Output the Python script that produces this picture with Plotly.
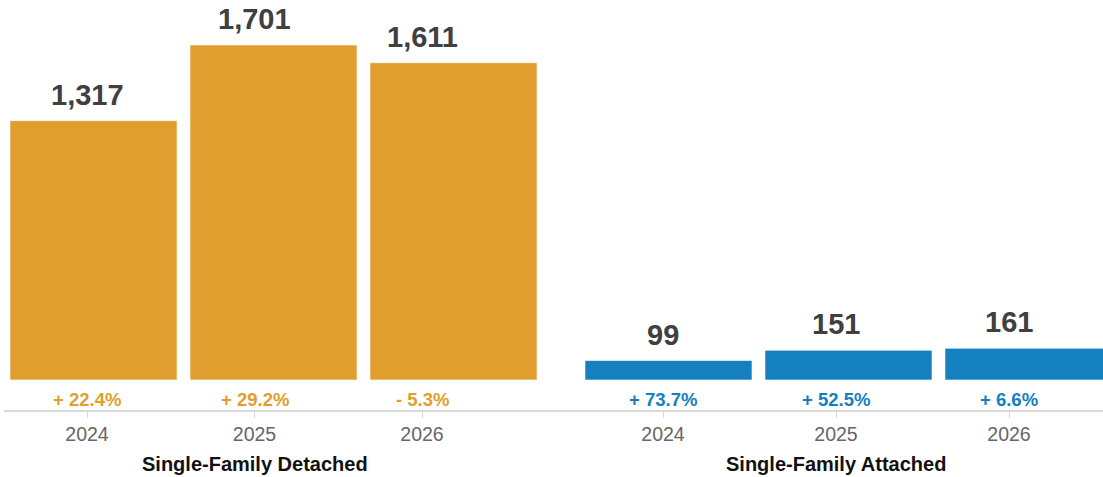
import plotly.graph_objects as go

years = ["2024", "2025", "2026"]
detached = [1317, 1701, 1611]
attached = [99, 151, 161]
detached_change = ["+ 22.4%", "+ 29.2%", "- 5.3%"]
attached_change = ["+ 73.7%", "+ 52.5%", "+ 6.6%"]
groups = ["Single-Family Detached", "Single-Family Attached"]

ORANGE = "#E09E2F"
BLUE = "#1580C0"
W, H = 1103, 477
FONT = "Liberation Sans, Arial, Helvetica, sans-serif"

fig = go.Figure()

# bars (on their own hidden axes)
fig.add_trace(go.Bar(x=years, y=detached, xaxis="x", yaxis="y", width=0.928,
                     marker=dict(color=ORANGE, line=dict(color="rgba(255,255,255,0.6)", width=1)),
                     hoverinfo="skip", showlegend=False))
fig.add_trace(go.Bar(x=years, y=attached, xaxis="x2", yaxis="y", width=0.928,
                     marker=dict(color=BLUE, line=dict(color="rgba(255,255,255,0.6)", width=1)),
                     hoverinfo="skip", showlegend=False))
# invisible anchors for the category (tick) axes
fig.add_trace(go.Scatter(x=years, y=detached, xaxis="x3", yaxis="y", mode="markers",
                         marker=dict(opacity=0), hoverinfo="skip", showlegend=False))
fig.add_trace(go.Scatter(x=years, y=attached, xaxis="x4", yaxis="y", mode="markers",
                         marker=dict(opacity=0), hoverinfo="skip", showlegend=False))

annotations = []
for xref, vals, changes, color in [("x3", detached, detached_change, ORANGE),
                                   ("x4", attached, attached_change, BLUE)]:
    # category axes: annotation x is the category index
    for i, (v, ch) in enumerate(zip(vals, changes)):
        annotations.append(dict(x=i, y=v, xref=xref, yref="y", text=f"<b>{v:,}</b>",
                                showarrow=False, yanchor="bottom", yshift=8,
                                font=dict(family=FONT, size=29, color="#404040")))
        annotations.append(dict(x=i, y=0, xref=xref, yref="y", text=f"<b>{ch}</b>",
                                showarrow=False, yanchor="top", yshift=-7,
                                font=dict(family=FONT, size=18.5, color=color)))
for xref, g in zip(["x3", "x4"], groups):
    annotations.append(dict(x=(len(years) - 1) / 2, y=0, xref=xref, yref="paper", text=f"<b>{g}</b>",
                            showarrow=False, yanchor="top", yshift=-40,
                            font=dict(family=FONT, size=20, color="#111111")))

hidden = dict(type="category", showticklabels=False, ticks="", showline=False,
              showgrid=False, zeroline=False, fixedrange=True)
tickax = dict(type="category", showticklabels=True, ticks="outside", ticklen=6, tickwidth=1,
              tickcolor="#d8d8d8", showline=False, showgrid=False, zeroline=False,
              fixedrange=True, tickfont=dict(family=FONT, size=19.5, color="#666666"), anchor="y")

fig.update_layout(
    width=W, height=H,
    margin=dict(l=0, r=0, t=0, b=66),
    paper_bgcolor="white", plot_bgcolor="rgba(0,0,0,0)",
    showlegend=False,
    xaxis=dict(**hidden, domain=[3.5 / W, 543.5 / W], range=[-0.5, 2.5], anchor="y"),
    xaxis2=dict(**hidden, domain=[578.5 / W, 1.0], range=[-0.5, -0.5 + 524.5 / 180], anchor="y"),
    xaxis3=dict(**tickax, domain=[3.25 / W, 505.75 / W], range=[-0.5, 2.5]),
    xaxis4=dict(**tickax, domain=[576.5 / W, 1095.5 / W], range=[-0.5, 2.5]),
    yaxis=dict(range=[-157.4, 1929.5], visible=False, fixedrange=True),
    annotations=annotations,
    shapes=[dict(type="line", xref="paper", yref="paper", x0=4 / W, x1=1, y0=0, y1=0,
                 line=dict(color="#d8d8d8", width=2), layer="above")],
)

fig.write_html("out.html", config={"displayModeBar": False})
